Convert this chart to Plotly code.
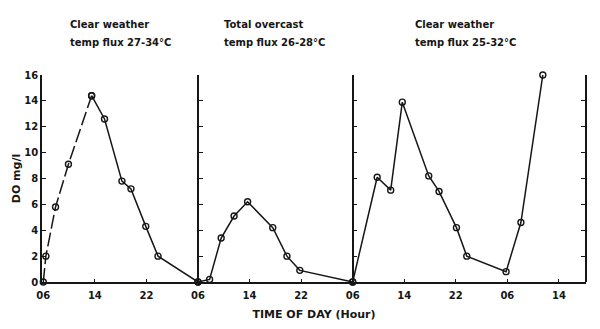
import plotly.graph_objects as go

# Hours elapsed since 06:00 on the first day; three consecutive 24 h panels
x_min, x_max = -0.2, 84.2
tick_hours = [0, 8, 16, 24, 32, 40, 48, 56, 64, 72, 80]
tick_labels = ["06", "14", "22", "06", "14", "22", "06", "14", "22", "06", "14"]
y_ticks = [0, 2, 4, 6, 8, 10, 12, 14, 16]
panel_edges = [24, 48]

# Panel 1: clear weather
p1_hours = [0.0, 0.4, 1.9, 3.9, 7.5, 9.5, 12.2, 13.6, 15.9, 17.8, 24.0]
p1_do = [0.0, 2.0, 5.8, 9.1, 14.4, 12.6, 7.8, 7.2, 4.3, 2.0, 0.0]

# Panel 2: total overcast
p2_hours = [24.0, 25.8, 27.6, 29.6, 31.7, 35.6, 37.8, 39.8, 48.0]
p2_do = [0.0, 0.2, 3.4, 5.1, 6.2, 4.2, 2.0, 0.9, 0.0]

# Panel 3: clear weather
p3_hours = [48.0, 51.8, 53.9, 55.7, 59.8, 61.4, 64.1, 65.7, 71.8, 74.1, 77.5]
p3_do = [0.0, 8.1, 7.1, 13.9, 8.2, 7.0, 4.2, 2.0, 0.8, 4.6, 16.0]

panel_notes = [
    (3.9, "Clear weather", "temp flux 27-34°C"),
    (27.8, "Total overcast", "temp flux 26-28°C"),
    (57.4, "Clear weather", "temp flux 25-32°C"),
]

INK = "#161616"
FONT = dict(family="DejaVu Sans", color=INK, size=10, weight="bold")

fig = go.Figure()

marker = dict(symbol="circle-open", size=6, color=INK, line=dict(width=1.4, color=INK))


def add_curve(xs, ys, dash="solid"):
    fig.add_trace(go.Scatter(
        x=xs, y=ys, mode="lines+markers",
        line=dict(color=INK, width=1.5, dash=dash),
        marker=marker, cliponaxis=False, showlegend=False, hoverinfo="skip",
    ))


# rising limb of the first day is drawn broken, the rest solid
add_curve(p1_hours[:5], p1_do[:5], dash="14px,4px")
add_curve(p1_hours[4:], p1_do[4:])
add_curve(p2_hours, p2_do)
add_curve(p3_hours, p3_do)

# vertical dividers / right frame as extra y axes without labels
span = x_max - x_min
extra_axes = {}
for i, edge in enumerate(panel_edges + [x_max]):
    name = f"yaxis{i + 2}"
    is_right = edge == x_max
    extra_axes[name] = dict(
        overlaying="y", anchor="free",
        position=min(1.0, (edge - x_min) / span),
        side="right" if is_right else "left",
        range=[0, 16], tickvals=y_ticks, showticklabels=False,
        ticks="inside", ticklen=4, tickwidth=1.3, tickcolor=INK,
        showline=True, linecolor=INK, linewidth=1.6,
        showgrid=False, zeroline=False, automargin=False,
    )
    fig.add_trace(go.Scatter(x=[None], y=[None], yaxis=f"y{i + 2}",
                             showlegend=False, hoverinfo="skip"))

annotations = []
for xh, line1, line2 in panel_notes:
    annotations.append(dict(x=xh, y=1.242, xref="x", yref="paper", text=line1,
                            showarrow=False, xanchor="left", yanchor="middle", font=FONT))
    annotations.append(dict(x=xh, y=1.159, xref="x", yref="paper", text=line2,
                            showarrow=False, xanchor="left", yanchor="middle", font=FONT))

fig.update_layout(
    width=600, height=329,
    margin=dict(l=42, r=14, t=75, b=47),
    paper_bgcolor="white", plot_bgcolor="white",
    font=FONT,
    xaxis=dict(
        range=[x_min, x_max], tickvals=tick_hours, ticktext=tick_labels,
        ticks="inside", ticklen=3, tickwidth=1.3, tickcolor=INK,
        showline=True, linecolor=INK, linewidth=1.8,
        showgrid=False, zeroline=False, automargin=False,
        ticklabelstandoff=3,
        title=dict(text="TIME OF DAY (Hour)", font=dict(size=11), standoff=10),
        tickfont=dict(size=10),
    ),
    yaxis=dict(
        range=[0, 16], tickvals=y_ticks,
        ticks="inside", ticklen=4, tickwidth=1.3, tickcolor=INK,
        showline=True, linecolor=INK, linewidth=1.8,
        showgrid=False, zeroline=False, automargin=False,
        title=dict(text="DO mg/l", font=dict(size=11), standoff=1),
        tickfont=dict(size=10),
    ),
    annotations=annotations,
    **extra_axes,
)

fig.write_html("out.html")
